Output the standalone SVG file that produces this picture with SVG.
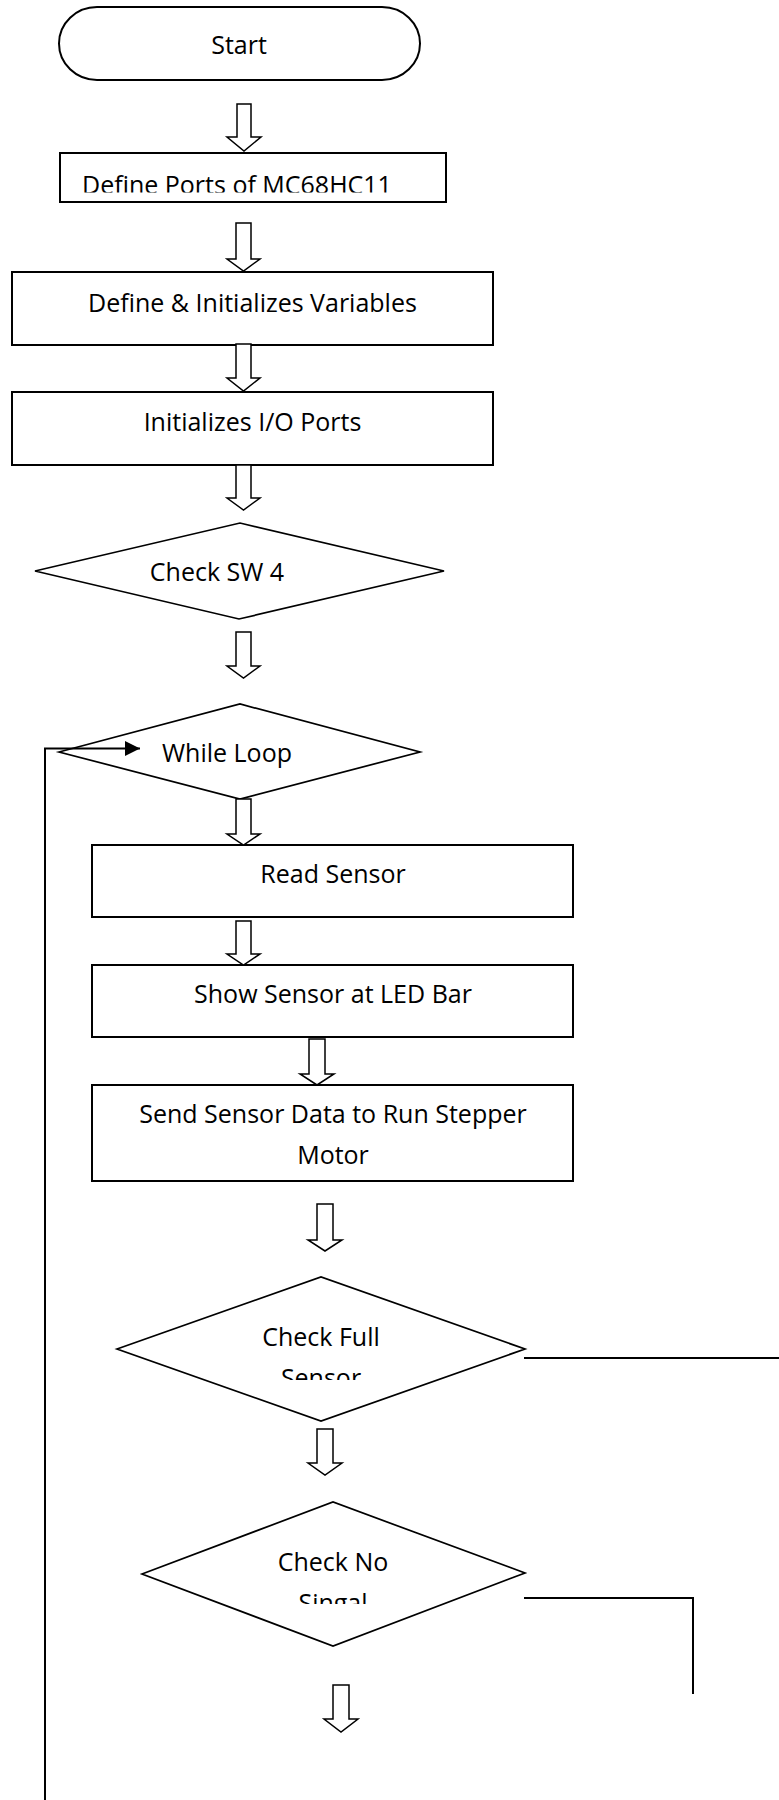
<svg xmlns="http://www.w3.org/2000/svg" width="779" height="1800" viewBox="0 0 779 1800">
  <style>
    .box { fill: #fff; stroke: #000; stroke-width: 2; }
    .dia { fill: #fff; stroke: #000; stroke-width: 1.7; }
    .blk { fill: #fff; stroke: #000; stroke-width: 1.5; stroke-linejoin: miter; }
    .wire { fill: none; stroke: #000; stroke-width: 2; }
    .lbl { font-family: "Open Sans", "Liberation Sans", sans-serif; font-size: 25px; fill: #000; text-anchor: middle; }
    .lbl-left { text-anchor: start; }
  </style>
  <defs>
    <marker id="tri" viewBox="0 0 15 15" refX="15" refY="7.5" markerWidth="15" markerHeight="15" markerUnits="userSpaceOnUse" orient="auto">
      <path d="M0,0 L15,7.5 L0,15 Z" fill="#000"/>
    </marker>
    <clipPath id="clipPorts"><rect x="60" y="150" width="390" height="42.5"/></clipPath>
    <clipPath id="clipFull"><rect x="117" y="1270" width="410" height="110"/></clipPath>
    <clipPath id="clipNo"><rect x="142" y="1495" width="385" height="109"/></clipPath>
  </defs>

  <rect width="779" height="1800" fill="#fff"/>

  <g id="start">
    <rect class="box" x="59" y="7" width="361" height="73" rx="38" ry="36.5"/>
    <text class="lbl" x="239" y="54">Start</text>
  </g>

  <g id="define-ports">
    <rect class="box" x="60" y="153" width="386" height="49"/>
    <text class="lbl lbl-left" x="82" y="194" clip-path="url(#clipPorts)">Define Ports of MC68HC11</text>
  </g>

  <g id="define-vars">
    <rect class="box" x="12" y="272" width="481" height="73"/>
    <text class="lbl" x="252.5" y="312">Define &amp; Initializes Variables</text>
  </g>

  <g id="init-io">
    <rect class="box" x="12" y="392" width="481" height="73"/>
    <text class="lbl" x="252.5" y="431">Initializes I/O Ports</text>
  </g>

  <g id="check-sw4">
    <polygon class="dia" points="35,571 240,523 444,571 239,619"/>
    <text class="lbl" x="217" y="581">Check SW 4</text>
  </g>

  <g id="while-loop">
    <polygon class="dia" points="59,752 240,704 420,752 240,799"/>
    <text class="lbl" x="227" y="762">While Loop</text>
  </g>

  <g id="read-sensor">
    <rect class="box" x="92" y="845" width="481" height="72"/>
    <text class="lbl" x="333" y="883">Read Sensor</text>
  </g>

  <g id="show-sensor">
    <rect class="box" x="92" y="965" width="481" height="72"/>
    <text class="lbl" x="333" y="1003">Show Sensor at LED Bar</text>
  </g>

  <g id="send-data">
    <rect class="box" x="92" y="1085" width="481" height="96"/>
    <text class="lbl" x="333" y="1123">Send Sensor Data to Run Stepper</text>
    <text class="lbl" x="333" y="1164">Motor</text>
  </g>

  <g id="check-full">
    <polygon class="dia" points="117,1349 321,1277 525,1349 321,1421"/>
    <g clip-path="url(#clipFull)">
      <text class="lbl" x="321" y="1346">Check Full</text>
      <text class="lbl" x="321" y="1387">Sensor</text>
    </g>
  </g>

  <g id="check-no-signal">
    <polygon class="dia" points="142,1574 333,1502 525,1573 333,1646"/>
    <g clip-path="url(#clipNo)">
      <text class="lbl" x="333" y="1571">Check No</text>
      <text class="lbl" x="333" y="1612">Singal</text>
    </g>
  </g>

  <!-- connectors: block arrows, loop-back and branch lines (drawn over the shapes) -->
  <g id="connectors">
    <path class="blk" d="M237,104 H251 V137 H261 L244,151 L227,137 H237 Z"/>
    <path class="blk" d="M236,223 H251 V259 H260 L243.5,271 L227,259 H236 Z"/>
    <path class="blk" d="M236,344 H251 V378 H260 L243.5,391 L227,378 H236 Z"/>
    <path class="blk" d="M236,465 H251 V498 H260 L243.5,510 L227,498 H236 Z"/>
    <path class="blk" d="M236,632 H251 V666 H260 L243.5,678 L227,666 H236 Z"/>
    <path class="blk" d="M236,799 H251 V834 H260 L243.5,845 L227,834 H236 Z"/>
    <path class="blk" d="M236,921 H251 V954 H260 L243.5,965 L227,954 H236 Z"/>
    <path class="blk" d="M309,1039 H325 V1074 H334 L317,1085 L300,1074 H309 Z"/>
    <path class="blk" d="M317,1204 H333 V1240 H342 L325,1251 L308,1240 H317 Z"/>
    <path class="blk" d="M317,1429 H333 V1463 H342 L325,1475 L308,1463 H317 Z"/>
    <path class="blk" d="M333,1685 H349 V1719 H358 L341,1732 L324,1719 H333 Z"/>

    <path class="wire" d="M45,1800 V748.5 H140" marker-end="url(#tri)"/>
    <path class="wire" d="M524,1358 H779"/>
    <path class="wire" d="M524,1598 H693 V1694"/>
  </g>
</svg>
